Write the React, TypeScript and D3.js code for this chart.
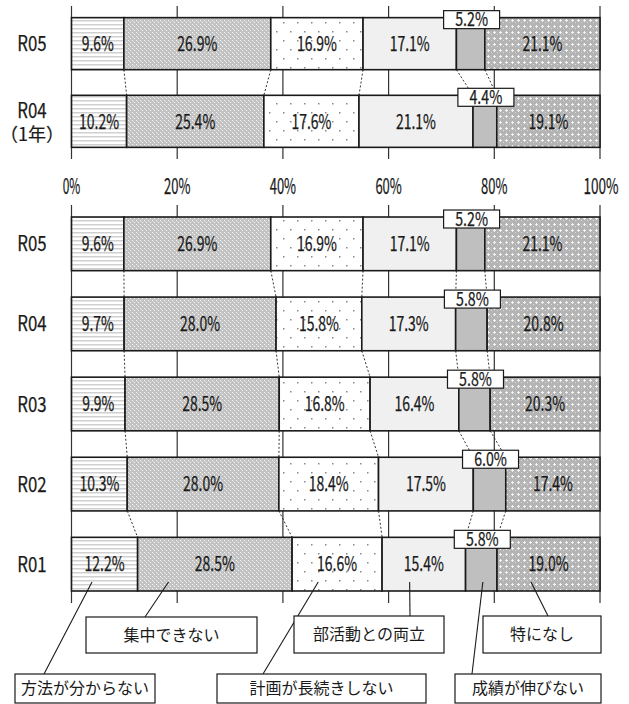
import React, { useEffect } from "react";
import * as d3 from "d3";

// categories (segments, left to right)
const categories = [
  "方法が分からない",
  "集中できない",
  "計画が長続きしない",
  "部活動との両立",
  "成績が伸びない",
  "特になし",
];

// upper chart
const topRows = ["R05", "R04"];
const topSubLabels = ["", "（1年）"];
const topValues = [
  [9.6, 26.9, 16.9, 17.1, 5.2, 21.1],
  [10.2, 25.4, 17.6, 21.1, 4.4, 19.1],
];

// lower chart
const bottomRows = ["R05", "R04", "R03", "R02", "R01"];
const bottomValues = [
  [9.6, 26.9, 16.9, 17.1, 5.2, 21.1],
  [9.7, 28.0, 15.8, 17.3, 5.8, 20.8],
  [9.9, 28.5, 16.8, 16.4, 5.8, 20.3],
  [10.3, 28.0, 18.4, 17.5, 6.0, 17.4],
  [12.2, 28.5, 16.6, 15.4, 5.8, 19.0],
];

const ticks = [0, 0.2, 0.4, 0.6, 0.8, 1];

const fills = [
  "url(#p-stripe)",
  "url(#p-check)",
  "url(#p-dots)",
  "#f0f0f0",
  "#bfbfbf",
  "url(#p-check2)",
];

// callout boxes under the lower chart (layout only)
const callouts = [
  { cat: 0, frac: 0.31, ex: 44, box: [15, 674, 140, 29] },
  { cat: 1, frac: 0.2, ex: 145, box: [86, 617, 171, 36] },
  { cat: 2, frac: 0.29, ex: 263, box: [217, 674, 209, 29] },
  { cat: 3, frac: 0.33, ex: 410, box: [294, 616, 150, 37] },
  { cat: 4, frac: 0.55, ex: 472, box: [455, 674, 146, 29] },
  { cat: 5, frac: 0.33, ex: 548, box: [483, 616, 118, 37] },
];

const FONT = "'Noto Sans CJK JP', 'Noto Sans', sans-serif";
const INK = "#1a1a1a";

const x = d3.scaleLinear().domain([0, 1]).range([71.5, 600]);

const stackRows = (values: number[][]) => {
  const rows = values.map((v) => {
    const o: Record<string, number> = {};
    categories.forEach((c, i) => (o[c] = v[i]));
    return o;
  });
  return d3.stack<Record<string, number>>().keys(categories).offset(d3.stackOffsetExpand)(rows);
};

const fmt = (v: number) => v.toFixed(1) + "%";

// condensed text helper: fixed advance per character
const Num = ({ x, y, s, size, adv }: { x: number; y: number; s: string; size: number; adv: number }) => (
  <text
    x={x}
    y={y}
    dy="0.36em"
    textAnchor="middle"
    fontFamily={FONT}
    fontSize={size}
    fill={INK}
    stroke={INK}
    strokeWidth={0.25}
    textLength={s.length * adv}
    lengthAdjust="spacingAndGlyphs"
  >
    {s}
  </text>
);

const Panel = ({
  rows,
  sub,
  values,
  y0,
  y1,
}: {
  rows: string[];
  sub?: string[];
  values: number[][];
  y0: number;
  y1: number;
}) => {
  const y = d3
    .scaleBand<number>()
    .domain(rows.map((_, i) => i))
    .range([y0, y1])
    .paddingInner(0.33)
    .paddingOuter(0.15);
  const series = stackRows(values);
  const bw = y.bandwidth();

  return (
    <g>
      {/* grid */}
      {ticks.map((t) => (
        <line key={t} x1={x(t)} x2={x(t)} y1={y0} y2={y1} stroke="#333" strokeWidth={1.2} />
      ))}
      {/* row labels */}
      {rows.map((r, i) => {
        const cy = y(i)! + bw / 2;
        const two = sub && sub[i];
        return (
          <g key={r + i}>
            <Num x={32} y={two ? cy - 11 : cy} s={r} size={21} adv={9.8} />
            {two ? (
              <text
                x={32}
                y={cy + 13}
                dy="0.36em"
                textAnchor="middle"
                fontFamily={FONT}
                fontSize={18}
                fill={INK}
                stroke={INK}
                strokeWidth={0.2}
              >
                {sub![i]}
              </text>
            ) : null}
          </g>
        );
      })}
      {/* segments */}
      {series.map((s, j) =>
        s.map((d, i) => (
          <rect
            key={j + "-" + i}
            x={x(d[0])}
            y={y(i)}
            width={x(d[1]) - x(d[0])}
            height={bw}
            fill={fills[j]}
            stroke={INK}
            strokeWidth={1.6}
          />
        ))
      )}
      {/* connectors between rows */}
      {rows.slice(0, -1).map((_, i) =>
        series.slice(0, -1).map((s, j) => (
          <line
            key={"c" + i + "-" + j}
            x1={x(s[i][1])}
            y1={y(i)! + bw}
            x2={x(s[i + 1][1])}
            y2={y(i + 1)!}
            stroke="#333"
            strokeWidth={1}
            strokeDasharray="2,2"
          />
        ))
      )}
      {/* value labels */}
      {series.map((s, j) =>
        s.map((d, i) => {
          const label = fmt(values[i][j]);
          const cx = (x(d[0]) + x(d[1])) / 2;
          if (j === 4) {
            const top = y(i)! - 7;
            return (
              <g key={"l" + j + "-" + i}>
                <rect x={cx - 27} y={top} width={56} height={18} fill="#fff" stroke={INK} strokeWidth={1.2} />
                <Num x={cx + 1} y={top + 9} s={label} size={19} adv={8.2} />
              </g>
            );
          }
          return <Num key={"l" + j + "-" + i} x={cx} y={y(i)! + bw / 2} s={label} size={20} adv={8} />;
        })
      )}
    </g>
  );
};

const App = () => {
  useEffect(() => {
    document.body.style.margin = "0";
    document.body.style.overflow = "hidden";
  }, []);

  const bottomSeries = stackRows(bottomValues);
  const yb = d3
    .scaleBand<number>()
    .domain(bottomRows.map((_, i) => i))
    .range([205, 603])
    .paddingInner(0.33)
    .paddingOuter(0.15);
  const last = bottomRows.length - 1;
  const anchorY = yb(last)! + yb.bandwidth() - 9;

  return (
    <svg width={629} height={704} viewBox="0 0 629 704" style={{ display: "block", background: "#fff" }}>
      <defs>
        <pattern id="p-stripe" width={4} height={4} patternUnits="userSpaceOnUse">
          <rect width={4} height={4} fill="#fff" />
          <rect y={0} width={4} height={1.5} fill="#d0d0d0" />
        </pattern>
        <pattern id="p-check" width={4} height={4} patternUnits="userSpaceOnUse">
          <rect width={4} height={4} fill="#c2c2c2" />
          <rect x={0} y={0} width={1} height={1} fill="#f4f4f4" />
          <rect x={2} y={2} width={1} height={1} fill="#f4f4f4" />
          <rect x={1} y={1} width={1} height={1} fill="#d8d8d8" />
        </pattern>
        <pattern id="p-check2" width={6} height={6} patternUnits="userSpaceOnUse">
          <rect width={6} height={6} fill="#b4b4b4" />
          <rect x={2} y={1} width={1} height={3} fill="#f2f2f2" />
          <rect x={1} y={2} width={3} height={1} fill="#f2f2f2" />
          <rect x={5} y={4} width={1} height={1} fill="#dcdcdc" />
        </pattern>
        <pattern id="p-dots" width={14} height={18} patternUnits="userSpaceOnUse">
          <rect width={14} height={18} fill="#fff" />
          <rect x={3} y={4} width={1.5} height={1.5} fill="#888" />
          <rect x={10} y={13} width={1.5} height={1.5} fill="#888" />
        </pattern>
      </defs>

      <Panel rows={topRows} sub={topSubLabels} values={topValues} y0={6} y1={159} />

      {/* shared axis labels */}
      {ticks.map((t) => (
        <Num
          key={"t" + t}
          x={t === 1 ? x(t) + 1 : x(t)}
          y={186}
          s={Math.round(t * 100) + "%"}
          size={22}
          adv={8.8}
        />
      ))}

      <Panel rows={bottomRows} values={bottomValues} y0={205} y1={603} />

      {/* callouts */}
      {callouts.map((c) => {
        const d = bottomSeries[c.cat][last];
        const sx = x(d[0]) + (x(d[1]) - x(d[0])) * c.frac;
        const [bx, by, bw, bh] = c.box;
        return (
          <g key={"co" + c.cat}>
            <line x1={sx} y1={anchorY} x2={c.ex} y2={by} stroke={INK} strokeWidth={1.1} />
            <rect x={bx} y={by} width={bw} height={bh} fill="#fff" stroke={INK} strokeWidth={1.2} />
            <text
              x={bx + bw / 2}
              y={by + bh / 2}
              dy="0.36em"
              textAnchor="middle"
              fontFamily={FONT}
              fontSize={16}
              fill={INK}
            >
              {categories[c.cat]}
            </text>
          </g>
        );
      })}
    </svg>
  );
};

export default App;
